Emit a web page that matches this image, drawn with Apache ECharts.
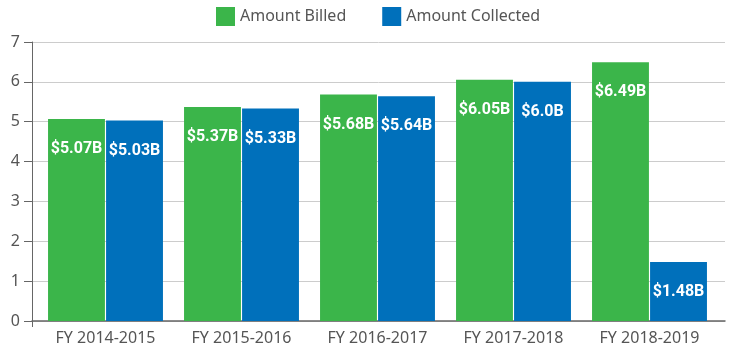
<!DOCTYPE html>
<html><head><meta charset="utf-8">
<script src="https://cdn.jsdelivr.net/npm/echarts@6/dist/echarts.min.js"></script>
<style>html,body{margin:0;padding:0;background:#fff}#c{width:735px;height:356px}</style>
</head><body><div id="c"></div>
<script>
const categories = ['FY 2014-2015','FY 2015-2016','FY 2016-2017','FY 2017-2018','FY 2018-2019'];
const billed = [5.07, 5.37, 5.68, 6.05, 6.49];
const collected = [5.03, 5.33, 5.64, 6.0, 1.48];
const billedLabels = ['$5.07B','$5.37B','$5.68B','$6.05B','$6.49B'];
const collectedLabels = ['$5.03B','$5.33B','$5.64B','$6.0B','$1.48B'];
const yTicks = [0,1,2,3,4,5,6,7];

const chart = echarts.init(document.getElementById('c'));
const labelStyle = (labels) => ({
  show: true, position: 'insideTop', distance: 22,
  color: '#fff', fontFamily: 'Roboto', fontWeight: 'bold', fontSize: 16,
  formatter: p => labels[p.dataIndex]
});
chart.setOption({
  animation: false,
  legend: {
    top: 2, left: 211, itemWidth: 19, itemHeight: 19, itemGap: 36,
    icon: 'rect',
    textStyle: {color: '#555', fontSize: 16, fontFamily: 'Noto Sans'},
    data: ['Amount Billed','Amount Collected']
  },
  grid: [
    {left: 32, right: 10, top: 42, bottom: 35},
    {left: 37.5, right: 17.5, top: 42, bottom: 35}
  ],
  xAxis: [
    {type: 'value', gridIndex: 0, min: 0, max: 1,
     axisLine: {show: true, lineStyle: {color: '#666', width: 1.5}},
     axisTick: {show: true, length: 6, customValues: [0], lineStyle: {color: '#666'}},
     axisLabel: {show: false}, splitLine: {show: false}},
    {type: 'category', gridIndex: 1, data: categories,
     axisLine: {show: false}, axisTick: {show: false},
     axisLabel: {color: '#555', fontSize: 16, fontFamily: 'Noto Sans', margin: 9}}
  ],
  yAxis: [
    {type: 'value', gridIndex: 0, min: 0, max: 7, interval: 1,
     axisLine: {show: true, lineStyle: {color: '#666'}},
     axisTick: {show: true, length: 8, lineStyle: {color: '#666'}},
     axisLabel: {color: '#555', fontSize: 16, fontFamily: 'Noto Sans', margin: 12,
       formatter: v => yTicks.includes(v) ? String(v) : ''},
     splitLine: {lineStyle: {color: '#ccc'}}},
    {type: 'value', gridIndex: 1, min: 0, max: 7, interval: 1, show: false}
  ],
  series: [
    {name: 'Amount Billed', type: 'bar', xAxisIndex: 1, yAxisIndex: 1, data: billed,
     barGap: '2%', barCategoryGap: '15.5%',
     itemStyle: {color: '#3bb54a'}, label: labelStyle(billedLabels)},
    {name: 'Amount Collected', type: 'bar', xAxisIndex: 1, yAxisIndex: 1, data: collected,
     itemStyle: {color: '#0070bb'}, label: labelStyle(collectedLabels)}
  ]
});
</script></body></html>
